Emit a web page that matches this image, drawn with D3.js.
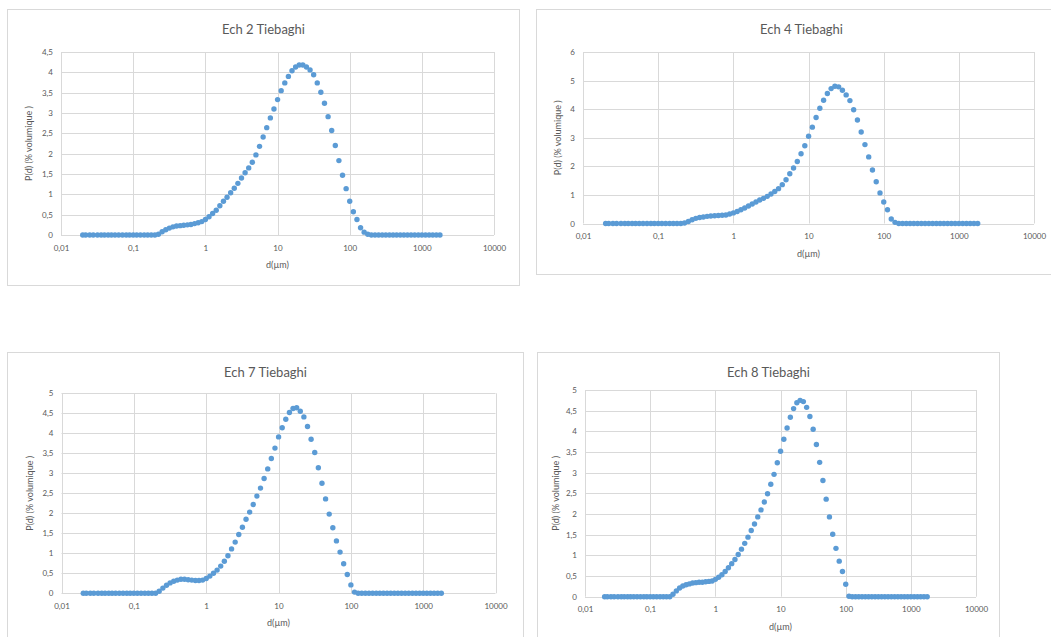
<!DOCTYPE html>
<meta charset="utf-8">
<head>
  <title>Tiebaghi - distributions granulometriques</title>
  <style>
    body { margin: 0; background: #fff; }
    text { font-family: Lato, "Open Sans", sans-serif; fill: #595959; }
  </style>
</head>

<body>
  <svg width="1051" height="637"></svg>

  <script src="https://cdnjs.cloudflare.com/ajax/libs/d3/7.8.5/d3.min.js"></script>
  <script>
// classes de taille (µm)
var sizes = [
  0.020, 0.022, 0.025, 0.028, 0.032, 0.036, 0.040, 0.045, 0.050, 0.056, 0.063, 0.071, 0.080, 0.089, 0.100, 0.112, 0.126, 0.142, 0.159, 0.178,
  0.200, 0.224, 0.252, 0.283, 0.317, 0.356, 0.399, 0.448, 0.502, 0.564, 0.632, 0.710, 0.796, 0.893, 1.002, 1.125, 1.262, 1.416, 1.589, 1.783,
  2.000, 2.244, 2.518, 2.825, 3.170, 3.557, 3.991, 4.477, 5.024, 5.637, 6.325, 7.096, 7.962, 8.934, 10.024, 11.247, 12.619, 14.159, 15.887, 17.825,
  20.000, 22.440, 25.179, 28.251, 31.698, 35.566, 39.905, 44.774, 50.238, 56.368, 63.246, 70.963, 79.621, 89.337, 100.237, 112.468, 126.191, 141.589, 158.866, 178.250,
  200.000, 224.404, 251.785, 282.508, 316.979, 355.656, 399.052, 447.744, 502.377, 563.677, 632.456, 709.627, 796.214, 893.367, 1002.374, 1124.683, 1261.915, 1415.892, 1588.656, 1782.502
];

var ech2 = [
  0, 0, 0, 0, 0, 0, 0, 0, 0, 0, 0, 0, 0, 0, 0, 0, 0, 0, 0, 0,
  0, 0.02, 0.08, 0.13, 0.17, 0.2, 0.22, 0.23, 0.24, 0.25, 0.26, 0.28, 0.3, 0.33, 0.38, 0.45, 0.53, 0.61, 0.72, 0.83,
  0.93, 1.04, 1.15, 1.27, 1.4, 1.53, 1.65, 1.79, 1.97, 2.18, 2.41, 2.64, 2.88, 3.1, 3.33, 3.55, 3.74, 3.9, 4.04, 4.13,
  4.18, 4.18, 4.13, 4.06, 3.94, 3.74, 3.51, 3.24, 2.91, 2.57, 2.2, 1.83, 1.47, 1.14, 0.83, 0.57, 0.38, 0.18, 0.07, 0.02,
  0, 0, 0, 0, 0, 0, 0, 0, 0, 0, 0, 0, 0, 0, 0, 0, 0, 0, 0, 0
];

var ech4 = [
  0, 0, 0, 0, 0, 0, 0, 0, 0, 0, 0, 0, 0, 0, 0, 0, 0, 0, 0, 0,
  0, 0.02, 0.07, 0.13, 0.18, 0.21, 0.23, 0.25, 0.26, 0.27, 0.28, 0.29, 0.3, 0.33, 0.37, 0.42, 0.48, 0.54, 0.61, 0.68,
  0.75, 0.82, 0.88, 0.95, 1.03, 1.12, 1.22, 1.36, 1.53, 1.74, 1.94, 2.17, 2.44, 2.72, 3.05, 3.37, 3.71, 4.03, 4.31, 4.55,
  4.72, 4.8, 4.78, 4.66, 4.5, 4.3, 3.98, 3.62, 3.2, 2.76, 2.33, 1.87, 1.46, 1.07, 0.75, 0.48, 0.16, 0.04, 0, 0,
  0, 0, 0, 0, 0, 0, 0, 0, 0, 0, 0, 0, 0, 0, 0, 0, 0, 0, 0, 0
];

var ech7 = [
  0, 0, 0, 0, 0, 0, 0, 0, 0, 0, 0, 0, 0, 0, 0, 0, 0, 0, 0, 0,
  0, 0.05, 0.13, 0.2, 0.26, 0.3, 0.33, 0.35, 0.35, 0.34, 0.33, 0.32, 0.32, 0.33, 0.37, 0.43, 0.5, 0.58, 0.68, 0.8,
  0.94, 1.11, 1.28, 1.47, 1.65, 1.85, 2.03, 2.22, 2.43, 2.63, 2.87, 3.11, 3.37, 3.63, 3.91, 4.14, 4.35, 4.52, 4.62, 4.64,
  4.55, 4.41, 4.17, 3.85, 3.52, 3.14, 2.75, 2.36, 1.98, 1.64, 1.31, 1.03, 0.74, 0.47, 0.21, 0.03, 0, 0, 0, 0,
  0, 0, 0, 0, 0, 0, 0, 0, 0, 0, 0, 0, 0, 0, 0, 0, 0, 0, 0, 0
];

var ech8 = [
  0, 0, 0, 0, 0, 0, 0, 0, 0, 0, 0, 0, 0, 0, 0, 0, 0, 0, 0, 0,
  0, 0.06, 0.14, 0.21, 0.26, 0.29, 0.31, 0.33, 0.34, 0.35, 0.35, 0.36, 0.37, 0.38, 0.42, 0.47, 0.53, 0.61, 0.7, 0.8,
  0.9, 1.02, 1.15, 1.29, 1.44, 1.6, 1.76, 1.93, 2.1, 2.29, 2.49, 2.72, 2.96, 3.24, 3.52, 3.81, 4.08, 4.34, 4.55, 4.69,
  4.75, 4.72, 4.58, 4.36, 4.05, 3.68, 3.25, 2.81, 2.36, 1.93, 1.51, 1.17, 0.86, 0.61, 0.3, 0.01, 0, 0, 0, 0,
  0, 0, 0, 0, 0, 0, 0, 0, 0, 0, 0, 0, 0, 0, 0, 0, 0, 0, 0, 0
];

var titles = ['Ech 2 Tiebaghi', 'Ech 4 Tiebaghi', 'Ech 7 Tiebaghi', 'Ech 8 Tiebaghi'];

var xTicks = [0.01, 0.1, 1, 10, 100, 1000, 10000];
var xTickLabels = ['0,01', '0,1', '1', '10', '100', '1000', '10000'];

var yTicksHalf45 = [0, 0.5, 1, 1.5, 2, 2.5, 3, 3.5, 4, 4.5];
var yLabelsHalf45 = ['0', '0,5', '1', '1,5', '2', '2,5', '3', '3,5', '4', '4,5'];
var yTicksUnit6 = [0, 1, 2, 3, 4, 5, 6];
var yLabelsUnit6 = ['0', '1', '2', '3', '4', '5', '6'];
var yTicksHalf5 = [0, 0.5, 1, 1.5, 2, 2.5, 3, 3.5, 4, 4.5, 5];
var yLabelsHalf5 = ['0', '0,5', '1', '1,5', '2', '2,5', '3', '3,5', '4', '4,5', '5'];

var xTitle = 'd(µm)';
var yTitle = 'P(d) (% volumique )';

// mise en page de chaque graphique (cadre + zone de tracé)
var panels = [
  {title: titles[0], values: ech2, yTicks: yTicksHalf45, yLabels: yLabelsHalf45,
   box: [7.5, 9.5, 512, 276], plot: [61, 494, 52, 235], yTitleX: 29},
  {title: titles[1], values: ech4, yTicks: yTicksUnit6, yLabels: yLabelsUnit6,
   box: [536.5, 9.5, 530, 265], plot: [583, 1034, 52, 223.5], yTitleX: 558},
  {title: titles[2], values: ech7, yTicks: yTicksHalf5, yLabels: yLabelsHalf5,
   box: [7.5, 352.5, 516, 300], plot: [61.5, 495.5, 393.3, 593.3], yTitleX: 30},
  {title: titles[3], values: ech8, yTicks: yTicksHalf5, yLabels: yLabelsHalf5,
   box: [537.5, 352.5, 462, 300], plot: [585, 976, 390, 596.7], yTitleX: 556}
];

var svg = d3.select('svg');

panels.forEach(function(p) {
  var g = svg.append('g');
  var l = p.plot[0], r = p.plot[1], t = p.plot[2], b = p.plot[3];

  g.append('rect')
    .attr('x', p.box[0]).attr('y', p.box[1])
    .attr('width', p.box[2]).attr('height', p.box[3])
    .attr('fill', '#fff')
    .attr('stroke', '#d9d9d9');

  var x = d3.scaleLog().domain([0.01, 10000]).range([l, r]);
  var y = d3.scaleLinear().domain([0, d3.max(p.yTicks)]).range([b, t]);

  // quadrillage
  g.append('g')
    .selectAll('line.v')
    .data(xTicks)
    .enter()
    .append('line')
    .attr('x1', function(d) { return Math.round(x(d)) + 0.5; })
    .attr('x2', function(d) { return Math.round(x(d)) + 0.5; })
    .attr('y1', t).attr('y2', b)
    .attr('stroke', '#d9d9d9');

  g.append('g')
    .selectAll('line.h')
    .data(p.yTicks)
    .enter()
    .append('line')
    .attr('x1', l).attr('x2', r)
    .attr('y1', function(d) { return Math.round(y(d)) + 0.5; })
    .attr('y2', function(d) { return Math.round(y(d)) + 0.5; })
    .attr('stroke', '#d9d9d9');

  // axes
  var xAxis = g.append('g')
    .attr('transform', 'translate(0,' + (b + 7) + ')')
    .call(d3.axisBottom(x).tickValues(xTicks).tickSize(0)
      .tickFormat(function(d, i) { return xTickLabels[i]; }));
  xAxis.select('.domain').remove();
  xAxis.selectAll('text').style('font-size', '8px').style('font-family', 'Lato, sans-serif').attr('fill', '#595959');

  var yAxis = g.append('g')
    .attr('transform', 'translate(' + (l - 5) + ',0)')
    .call(d3.axisLeft(y).tickValues(p.yTicks).tickSize(0)
      .tickFormat(function(d, i) { return p.yLabels[i]; }));
  yAxis.select('.domain').remove();
  yAxis.selectAll('text').style('font-size', '8px').style('font-family', 'Lato, sans-serif').attr('fill', '#595959');

  // titres
  g.append('text')
    .attr('x', p.box[0] + p.box[2] / 2)
    .attr('y', p.box[1] + 24)
    .attr('text-anchor', 'middle')
    .style('font-size', '13px')
    .text(p.title);

  g.append('text')
    .attr('x', (l + r) / 2)
    .attr('y', b + 33)
    .attr('text-anchor', 'middle')
    .style('font-size', '9px')
    .text(xTitle);

  g.append('text')
    .attr('transform', 'translate(' + p.yTitleX + ',' + ((t + b) / 2) + ') rotate(-90)')
    .attr('dy', '0.35em')
    .attr('text-anchor', 'middle')
    .style('font-size', '9px')
    .text(yTitle);

  // points
  g.append('g')
    .selectAll('circle')
    .data(p.values)
    .enter()
    .append('circle')
    .attr('cx', function(d, i) { return x(sizes[i]); })
    .attr('cy', function(d) { return y(d); })
    .attr('r', 2.7)
    .attr('fill', '#5b9bd5');
});
  </script>
</body>
</html>
